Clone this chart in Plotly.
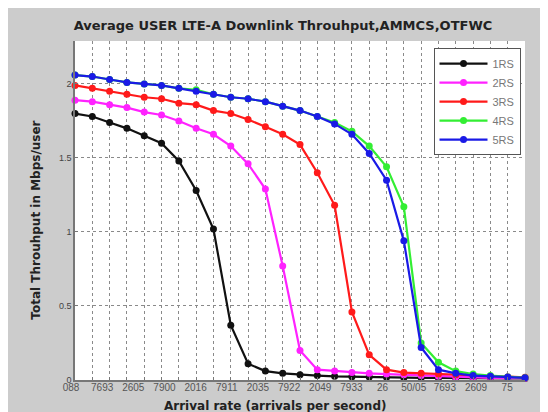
import plotly.graph_objects as go

# ---- data ----
x_index = list(range(27))
series_names = ["1RS", "2RS", "3RS", "4RS", "5RS"]
y_1rs = [1.80, 1.78, 1.74, 1.70, 1.65, 1.60, 1.48, 1.28, 1.02, 0.37, 0.11, 0.06, 0.045, 0.035,
         0.03, 0.025, 0.022, 0.02, 0.018, 0.016, 0.015, 0.014, 0.013, 0.012, 0.011, 0.01, 0.01]
y_2rs = [1.89, 1.88, 1.86, 1.84, 1.81, 1.79, 1.75, 1.70, 1.66, 1.58, 1.46, 1.29, 0.77, 0.20,
         0.07, 0.06, 0.05, 0.045, 0.04, 0.035, 0.03, 0.025, 0.02, 0.018, 0.015, 0.013, 0.012]
y_3rs = [1.99, 1.97, 1.95, 1.93, 1.91, 1.90, 1.87, 1.86, 1.82, 1.80, 1.76, 1.71, 1.66, 1.59,
         1.40, 1.18, 0.46, 0.17, 0.07, 0.05, 0.045, 0.04, 0.035, 0.03, 0.025, 0.02, 0.018]
y_4rs = [2.06, 2.05, 2.03, 2.01, 2.00, 1.99, 1.97, 1.96, 1.93, 1.91, 1.90, 1.88, 1.85, 1.82,
         1.78, 1.74, 1.68, 1.58, 1.44, 1.17, 0.25, 0.12, 0.06, 0.04, 0.03, 0.02, 0.015]
y_5rs = [2.06, 2.05, 2.03, 2.01, 2.00, 1.99, 1.97, 1.95, 1.93, 1.91, 1.90, 1.88, 1.85, 1.82,
         1.78, 1.73, 1.66, 1.53, 1.35, 0.94, 0.22, 0.07, 0.045, 0.03, 0.025, 0.02, 0.015]
series_values = [y_1rs, y_2rs, y_3rs, y_4rs, y_5rs]
series_colors = ["#111111", "#ff22ff", "#ff1a1a", "#33ee33", "#1a1ae6"]

x_tick_labels = ["088", "7693", "2605", "7900", "2016", "7911", "2035", "7922",
                 "2049", "7933", "26", "50/05", "7693", "2609", "75"]
y_tick_values = [0, 0.5, 1, 1.5, 2]
y_tick_labels = ["0", "0.5", "1", "1.5", "2"]

title_text = "Average USER LTE-A Downlink Throuhput,AMMCS,OTFWC"
x_title = "Arrival rate (arrivals per second)"
y_title = "Total Throuhput in Mbps/user"

# ---- figure ----
fig = go.Figure()
for name, vals, col in zip(series_names, series_values, series_colors):
    fig.add_trace(go.Scatter(
        x=x_index, y=vals, name=name, mode="lines+markers",
        line=dict(color=col, width=2.2),
        marker=dict(color=col, size=7, symbol="circle"),
        cliponaxis=False,
    ))

n_lab = len(x_tick_labels)
label_pos = [i * 25.2 / (n_lab - 1) for i in range(n_lab)]

# invisible helper trace so the label axis is active
fig.add_trace(go.Scatter(x=[0, 26], y=[0, 0], xaxis="x2", mode="markers",
                         marker=dict(opacity=0), showlegend=False, hoverinfo="skip"))

font_main = "Liberation Sans, Arial, sans-serif"
font_bold = "DejaVu Sans, Arial, sans-serif"
fig.update_layout(
    width=548, height=412,
    paper_bgcolor="#cccccc",
    plot_bgcolor="white",
    margin=dict(l=67, r=31, t=33, b=40, autoexpand=False),
    title=dict(text="<b>" + title_text + "</b>", x=275 / 548, xref="container",
               xanchor="center", y=395 / 412, yref="container", yanchor="middle",
               font=dict(family=font_bold, size=13, color="#222222")),
    showlegend=True,
    legend=dict(x=0.99, y=0.979, xanchor="right", yanchor="top",
                bgcolor="white", bordercolor="#555555", borderwidth=1,
                font=dict(family=font_main, size=11, color="#777777"),
                tracegroupgap=0, itemwidth=48),
    xaxis=dict(range=[0, 26], tickmode="linear", tick0=0, dtick=1, automargin=False,
               showticklabels=False, showgrid=True, gridcolor="#8a8a8a",
               griddash="dot", gridwidth=1, zeroline=False,
               showline=True, linecolor="#777777", linewidth=1.5,
               ticks="inside", ticklen=3, tickcolor="#777777"),
    xaxis2=dict(range=[0, 26], overlaying="x", anchor="y", side="bottom", automargin=False,
                tickmode="array", tickvals=label_pos, ticktext=x_tick_labels,
                ticklabelshift=-4, ticklabelstandoff=0, showgrid=False, zeroline=False,
                showline=False, ticks="",
                tickfont=dict(family=font_main, size=10, color="#555555")),
    yaxis=dict(range=[0, 2.29], tickmode="array", tickvals=y_tick_values, automargin=False,
               ticktext=y_tick_labels, showgrid=True, gridcolor="#8a8a8a",
               griddash="dot", gridwidth=1, zeroline=False,
               showline=True, linecolor="#777777", linewidth=1.5,
               ticks="inside", ticklen=3, tickcolor="#777777",
               tickfont=dict(family=font_main, size=9, color="#444444")),
    annotations=[
        dict(text="<b>" + x_title + "</b>", xref="paper", yref="paper",
             x=0.444, y=-26 / 339, xanchor="center", yanchor="middle", showarrow=False,
             font=dict(family=font_bold, size=12, color="#222222")),
        dict(text="<b>" + y_title + "</b>", xref="paper", yref="paper",
             x=-39 / 450, y=0.47, xanchor="center", yanchor="middle", showarrow=False,
             textangle=-90, font=dict(family=font_bold, size=12, color="#222222")),
    ],
)

fig.write_html("out.html")
